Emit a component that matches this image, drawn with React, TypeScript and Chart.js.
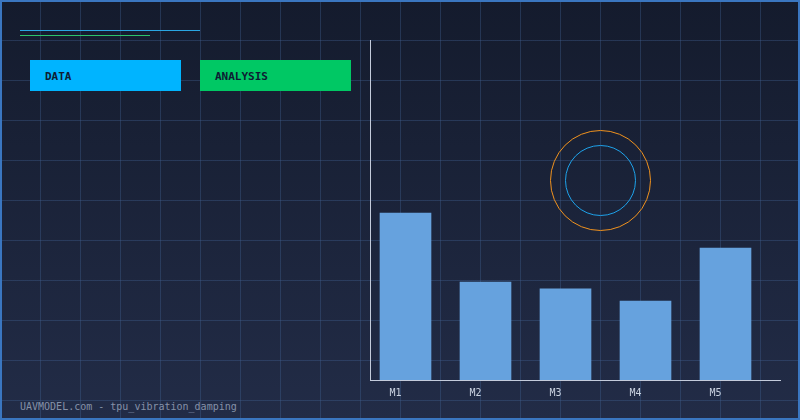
import React, { useEffect, useRef } from "react";
import { Chart, registerables } from "chart.js";

Chart.register(...registerables);

const categories = ["M1", "M2", "M3", "M4", "M5"];
const values = [49.1, 28.8, 26.8, 23.2, 38.8];
const yMin = 0;
const yMax = 100;
const headerLabels = ["DATA", "ANALYSIS"];
const footerText = "UAVMODEL.com - tpu_vibration_damping";

const MONO = '"DejaVu Sans Mono", "Liberation Mono", monospace';

export default function App() {
  const canvasRef = useRef<HTMLCanvasElement | null>(null);

  useEffect(() => {
    const canvas = canvasRef.current;
    if (!canvas) return;
    const chart = new Chart(canvas, {
      type: "bar",
      data: {
        datasets: [
          {
            data: values.map((v, i) => ({ x: i, y: v })),
            backgroundColor: "#66a2de",
            borderWidth: 0,
            barThickness: 51,
          },
        ],
      },
      options: {
        animation: false,
        responsive: false,
        devicePixelRatio: 1,
        layout: { padding: { left: 370, right: 20, top: 40, bottom: 14 } },
        plugins: { legend: { display: false }, tooltip: { enabled: false } },
        scales: {
          x: {
            type: "linear",
            offset: false,
            min: -0.44375,
            max: 4.68125,
            afterBuildTicks: (scale: any) => {
              scale.ticks = categories.map((_, i) => ({ value: i }));
            },
            grid: { display: false, drawTicks: false },
            border: { display: true, color: "#c3cbdb", width: 1 },
            ticks: {
              autoSkip: false,
              maxRotation: 0,
              labelOffset: -10,
              padding: 7,
              color: "#cad2e0",
              font: { family: MONO, size: 10 },
              callback: (v: any) => categories[Math.round(Number(v))] ?? "",
            },
          },
          y: {
            min: yMin,
            max: yMax,
            grid: { display: false, drawTicks: false },
            border: { display: true, color: "#c3cbdb", width: 1 },
            ticks: { display: false },
          },
        },
      },
    });
    return () => chart.destroy();
  }, []);

  return (
    <div
      style={{
        position: "fixed",
        left: 0,
        top: 0,
        width: 800,
        height: 420,
        overflow: "hidden",
        background: "linear-gradient(to bottom, #141b2d 0%, #222c47 100%)",
        fontFamily: MONO,
      }}
    >
      <div
        style={{
          position: "absolute",
          inset: 0,
          backgroundImage:
            "linear-gradient(to right, rgba(64,96,145,0.38) 1px, transparent 1px), linear-gradient(to bottom, rgba(64,96,145,0.38) 1px, transparent 1px)",
          backgroundSize: "40px 40px",
        }}
      />
      <div style={{ position: "absolute", left: 20, top: 30, width: 180, height: 1, background: "#2aa6e2" }} />
      <div style={{ position: "absolute", left: 20, top: 35, width: 130, height: 1, background: "#2cc46a" }} />
      {headerLabels.map((t, i) => (
        <div
          key={t}
          style={{
            position: "absolute",
            left: 30 + i * 170,
            top: 60,
            width: 151,
            height: 31,
            background: i === 0 ? "#00b4ff" : "#00c864",
            color: "#0e1c33",
            fontSize: 11,
            fontWeight: "bold",
            lineHeight: "33px",
            paddingLeft: 15,
            boxSizing: "border-box",
          }}
        >
          {t}
        </div>
      ))}
      <div
        style={{
          position: "absolute",
          left: 550,
          top: 130,
          width: 101,
          height: 101,
          borderRadius: "50%",
          border: "1px solid #f0921e",
          boxSizing: "border-box",
        }}
      />
      <div
        style={{
          position: "absolute",
          left: 565,
          top: 145,
          width: 71,
          height: 71,
          borderRadius: "50%",
          border: "1px solid #1ea2ea",
          boxSizing: "border-box",
        }}
      />
      <div
        style={{
          position: "absolute",
          left: 20,
          top: 400,
          fontSize: 10,
          lineHeight: "14px",
          color: "#8591a8",
          whiteSpace: "nowrap",
        }}
      >
        {footerText}
      </div>
      <canvas ref={canvasRef} width={800} height={420} style={{ position: "absolute", left: 0, top: 0 }} />
      <div
        style={{
          position: "absolute",
          inset: 0,
          border: "2px solid #3a76c0",
          pointerEvents: "none",
        }}
      />
    </div>
  );
}
